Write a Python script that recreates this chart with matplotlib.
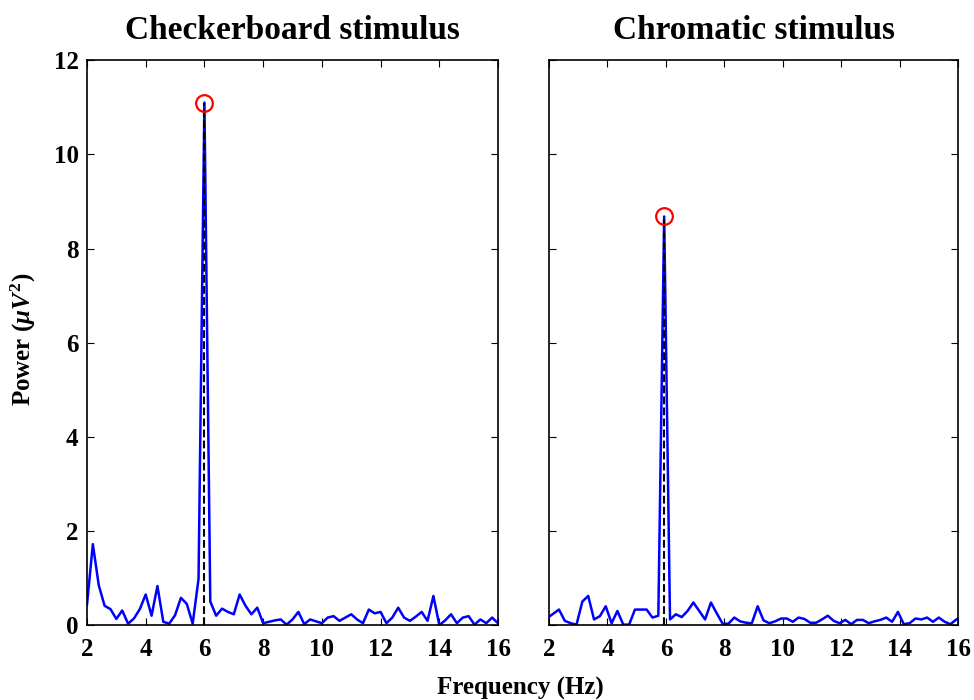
import numpy as np
import matplotlib
matplotlib.use('Agg')
import matplotlib.pyplot as plt

plt.rcParams['font.family'] = ['Liberation Serif', 'DejaVu Serif']
plt.rcParams['font.weight'] = 'bold'
plt.rcParams['mathtext.fontset'] = 'custom'
plt.rcParams['mathtext.rm'] = 'Liberation Serif:bold'
plt.rcParams['mathtext.it'] = 'Liberation Serif:italic:bold'

# checkerboard spectrum, 0.2 Hz bins starting at 2.0 Hz
power_check = [0.43, 1.72, 0.85, 0.41, 0.34, 0.13, 0.31, 0.03, 0.14, 0.34,
               0.65, 0.20, 0.83, 0.07, 0.03, 0.21, 0.58, 0.45, 0.03, 0.98,
               11.1, 0.50, 0.20, 0.35, 0.28, 0.23, 0.65, 0.41, 0.23, 0.37,
               0.04, 0.07, 0.10, 0.12, 0.01, 0.12, 0.28, 0.02, 0.12, 0.08,
               0.04, 0.16, 0.19, 0.09, 0.16, 0.23, 0.12, 0.04, 0.33, 0.25,
               0.28, 0.04, 0.16, 0.37, 0.16, 0.09, 0.18, 0.28, 0.09, 0.62,
               0.00, 0.10, 0.23, 0.04, 0.16, 0.19, 0.01, 0.12, 0.04, 0.16,
               0.04]
f0_check = 2.0

# chromatic spectrum, 0.2 Hz bins starting at 1.94 Hz
power_chrom = [0.15, 0.24, 0.33, 0.09, 0.04, 0.01, 0.50, 0.62, 0.12, 0.19,
               0.40, 0.04, 0.30, 0.01, 0.01, 0.33, 0.33, 0.33, 0.16, 0.20,
               8.68, 0.12, 0.23, 0.17, 0.30, 0.48, 0.30, 0.12, 0.48, 0.25,
               0.03, 0.03, 0.16, 0.08, 0.05, 0.04, 0.40, 0.10, 0.04, 0.08,
               0.14, 0.14, 0.07, 0.16, 0.13, 0.05, 0.05, 0.12, 0.20, 0.09,
               0.04, 0.11, 0.02, 0.11, 0.11, 0.04, 0.08, 0.11, 0.16, 0.07,
               0.28, 0.02, 0.04, 0.14, 0.12, 0.16, 0.07, 0.16, 0.07, 0.02,
               0.12, 0.18]
f0_chrom = 1.94
df = 0.2

titles = ['Checkerboard stimulus', 'Chromatic stimulus']
xticks = [2, 4, 6, 8, 10, 12, 14, 16]
yticks = [0, 2, 4, 6, 8, 10, 12]

fig = plt.figure(figsize=(9.74, 7.0), dpi=100)
ax1 = fig.add_axes([0.0893, 0.107, 0.422, 0.807])
ax2 = fig.add_axes([0.5637, 0.107, 0.420, 0.807])

for ax, p, f0, title in [(ax1, power_check, f0_check, titles[0]),
                         (ax2, power_chrom, f0_chrom, titles[1])]:
    p = np.array(p)
    f = f0 + df*np.arange(len(p))
    k = np.argmax(p)
    ax.plot(f, p, color='#0000ff', lw=1.8, zorder=2)
    ax.plot([f[k], f[k]], [0, p[k]], color='black', ls='--', lw=1.5, zorder=3)
    ax.plot(f[k], p[k], 'o', ms=12, mfc='none', mec='red', mew=1.6, zorder=4)
    ax.set_xlim(2, 16)
    ax.set_ylim(0, 12)
    ax.set_xticks(xticks)
    ax.set_yticks(yticks)
    ax.tick_params(direction='in', top=True, right=True, length=5, width=0.8,
                   labelsize=18, pad=6)
    ax.tick_params(axis='x', pad=9)
    for s in ax.spines.values():
        s.set_linewidth(1.2)
    ax.set_title(title, fontsize=24, fontweight='bold', pad=15)

ax2.set_yticklabels([])

fig.text(0.534, 0.0, 'Frequency (Hz)', ha='center', va='bottom',
         fontsize=18, fontweight='bold')
fig.text(0.024, 0.515, r'Power ($\mathit{\mu V}^2$)', ha='center', va='center',
         rotation=90, fontsize=18, fontweight='bold')

fig.savefig('out.png', dpi=100)
